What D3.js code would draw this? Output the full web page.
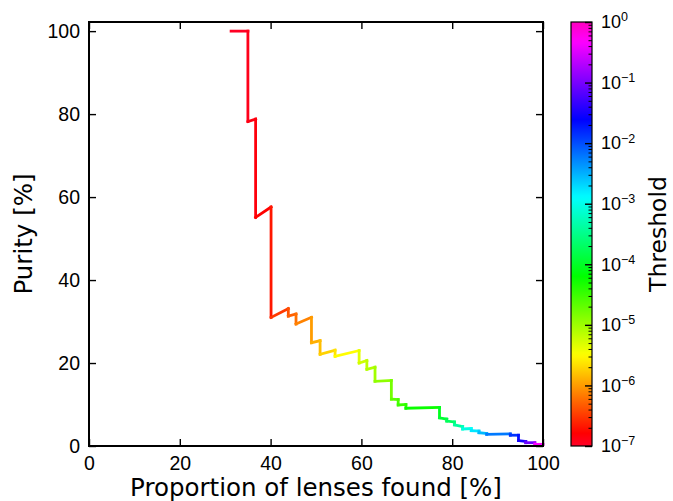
<!DOCTYPE html>
<html>
<head>
<meta charset="utf-8">
<script src="https://cdn.jsdelivr.net/npm/d3@7"></script>
<style>
  body { margin: 0; background: #fff; }
  svg { display: block; font-family: "DejaVu Sans", sans-serif; }
</style>
</head>
<body>
<svg id="chart" width="673" height="501"></svg>
<script>
// curve points: recall [%], purity [%], log10(threshold)
const recall = [31.3, 35.0, 35.0, 36.7, 36.7, 40.1, 40.1, 43.9, 43.9, 45.6, 45.6, 49.0, 49.0,
  50.9, 50.9, 54.2, 54.2, 59.5, 59.5, 61.2, 61.2, 63.0, 63.0, 66.6, 66.6, 68.1, 68.1,
  69.8, 69.8, 77.2, 77.2, 78.8, 78.8, 80.5, 80.5, 82.3, 82.3, 84.2, 84.2, 85.9, 85.9,
  87.6, 87.6, 92.8, 92.8, 94.6, 94.6, 96.2, 96.2, 98.2, 98.2, 100];
const purity = [100, 100, 78.2, 78.8, 55.1, 57.6, 31.0, 33.1, 31.3, 31.8, 29.4, 31.0, 24.9,
  25.4, 22.1, 23.1, 21.6, 23.0, 20.0, 20.6, 18.5, 19.0, 15.6, 15.8, 11.3, 11.2, 9.9,
  10.0, 9.1, 9.3, 6.8, 6.5, 6.0, 5.8, 5.1, 4.7, 4.1, 4.2, 3.7, 3.6, 3.2,
  3.0, 2.8, 2.9, 2.6, 2.6, 1.3, 1.1, 0.8, 0.8, 0.4, 0.4];
const logThreshold = [-7.0, -6.95, -6.9, -6.88, -6.82, -6.75, -6.6, -6.4, -6.35, -6.25, -6.2, -6.05, -5.95,
  -5.85, -5.8, -5.65, -5.6, -5.4, -5.3, -5.2, -5.15, -5.05, -5.0, -4.85, -4.75, -4.6, -4.55,
  -4.45, -4.4, -4.1, -4.0, -3.9, -3.8, -3.65, -3.5, -3.3, -3.15, -2.95, -2.85, -2.7, -2.6,
  -2.5, -2.4, -2.05, -1.95, -1.8, -1.6, -1.4, -1.2, -0.9, -0.6, 0];

const xTicks = [0, 20, 40, 60, 80, 100];
const yTicks = [0, 20, 40, 60, 80, 100];
const cbDecades = [-7, -6, -5, -4, -3, -2, -1, 0];

// matplotlib gist_rainbow
const rainbowStops = [
  [0.000, [1, 0, 0.16]], [0.030, [1, 0, 0]], [0.215, [1, 1, 0]], [0.400, [0, 1, 0]],
  [0.586, [0, 1, 1]], [0.770, [0, 0, 1]], [0.954, [1, 0, 1]], [1.000, [1, 0, 0.75]]
];
function gistRainbow(f) {
  f = Math.max(0, Math.min(1, f));
  let i = 1;
  while (i < rainbowStops.length - 1 && f > rainbowStops[i][0]) i++;
  const [f0, c0] = rainbowStops[i - 1], [f1, c1] = rainbowStops[i];
  const t = (f - f0) / (f1 - f0);
  const c = c0.map((v, k) => Math.round(255 * (v + (c1[k] - v) * t)));
  return `rgb(${c[0]},${c[1]},${c[2]})`;
}

const svg = d3.select("#chart");
const plot = {left: 89, right: 543, top: 22, bottom: 446};

const x = d3.scaleLinear().domain([0, 100]).range([plot.left, plot.right]);
const y = d3.scaleLinear().domain([0, 102.2]).range([plot.bottom, plot.top]);
const norm = d3.scaleLog().domain([1e-7, 1]).range([0, 1]);

// colored line segments
const segs = d3.range(recall.length - 1).map(i => ({
  x0: recall[i], y0: purity[i], x1: recall[i + 1], y1: purity[i + 1],
  t: Math.pow(10, (logThreshold[i] + logThreshold[i + 1]) / 2)
}));
svg.append("g").selectAll("line")
    .data(segs)
  .enter().append("line")
    .attr("x1", d => x(d.x0)).attr("y1", d => y(d.y0))
    .attr("x2", d => x(d.x1)).attr("y2", d => y(d.y1))
    .attr("stroke", d => gistRainbow(norm(d.t)))
    .attr("stroke-width", 2.8)
    .attr("stroke-linecap", "square");

// axes, ticks pointing inward
const tickLen = 7;
const styleAxis = g => {
  g.select(".domain").remove();
  g.selectAll(".tick line").attr("stroke", "#000").attr("stroke-width", 1.4);
  g.selectAll(".tick text").attr("fill", "#000").style("font-size", "19.5px");
};
svg.append("g").attr("transform", `translate(0,${plot.bottom})`)
    .call(d3.axisBottom(x).tickValues(xTicks).tickFormat(d3.format("d"))
      .tickSizeInner(-tickLen).tickSizeOuter(0).tickPadding(10))
    .call(styleAxis);
svg.append("g").attr("transform", `translate(0,${plot.top})`)
    .call(d3.axisTop(x).tickValues(xTicks).tickFormat("").tickSizeInner(-tickLen).tickSizeOuter(0))
    .call(styleAxis);
svg.append("g").attr("transform", `translate(${plot.left},0)`)
    .call(d3.axisLeft(y).tickValues(yTicks).tickFormat(d3.format("d"))
      .tickSizeInner(-tickLen).tickSizeOuter(0).tickPadding(9))
    .call(styleAxis);
svg.append("g").attr("transform", `translate(${plot.right},0)`)
    .call(d3.axisRight(y).tickValues(yTicks).tickFormat("").tickSizeInner(-tickLen).tickSizeOuter(0))
    .call(styleAxis);

svg.append("rect")
    .attr("x", plot.left).attr("y", plot.top)
    .attr("width", plot.right - plot.left).attr("height", plot.bottom - plot.top)
    .attr("fill", "none").attr("stroke", "#000").attr("stroke-width", 2);

svg.append("text")
    .attr("transform", `translate(23,${(plot.top + plot.bottom) / 2}) rotate(-90)`)
    .attr("text-anchor", "middle").attr("dominant-baseline", "central")
    .style("font-size", "24.5px")
    .text("Purity [%]");
svg.append("text")
    .attr("x", (plot.left + plot.right) / 2).attr("y", 496)
    .attr("text-anchor", "middle")
    .style("font-size", "24.5px")
    .text("Proportion of lenses found [%]");

// colorbar
const cb = {left: 571, right: 592, top: 22, bottom: 446};
const cy = d3.scaleLog().domain([1e-7, 1]).range([cb.bottom, cb.top]);
const grad = svg.append("defs").append("linearGradient")
    .attr("id", "cbgrad").attr("x1", 0).attr("y1", 1).attr("x2", 0).attr("y2", 0);
grad.selectAll("stop")
    .data(d3.range(0, 1.0001, 0.01))
  .enter().append("stop")
    .attr("offset", d => d)
    .attr("stop-color", d => gistRainbow(d));
svg.append("rect")
    .attr("x", cb.left).attr("y", cb.top)
    .attr("width", cb.right - cb.left).attr("height", cb.bottom - cb.top)
    .attr("fill", "url(#cbgrad)");

const minorVals = [];
cbDecades.slice(0, -1).forEach(d => { for (let m = 2; m <= 9; m++) minorVals.push(m * Math.pow(10, d)); });
svg.append("g").attr("transform", `translate(${cb.right},0)`)
    .call(d3.axisRight(cy).tickValues(minorVals).tickFormat("").tickSizeInner(-3.5).tickSizeOuter(0))
    .call(g => {
      g.select(".domain").remove();
      g.selectAll(".tick line").attr("stroke", "#000").attr("stroke-width", 1);
    });
const major = svg.append("g").attr("transform", `translate(${cb.right},0)`)
    .call(d3.axisRight(cy).tickValues(cbDecades.map(d => Math.pow(10, d))).tickFormat("")
      .tickSizeInner(-tickLen).tickSizeOuter(0).tickPadding(9))
    .call(styleAxis);
major.selectAll(".tick text").style("font-size", "18px").each(function(d) {
  const e = Math.round(Math.log10(d));
  const t = d3.select(this).text(null);
  t.append("tspan").text("10");
  t.append("tspan").attr("dy", "-0.55em").style("font-size", "12.5px")
    .text(e < 0 ? "\u2212" + (-e) : String(e));
});

svg.append("rect")
    .attr("x", cb.left).attr("y", cb.top)
    .attr("width", cb.right - cb.left).attr("height", cb.bottom - cb.top)
    .attr("fill", "none").attr("stroke", "#000").attr("stroke-width", 1.2);

svg.append("text")
    .attr("transform", `translate(658,${(cb.top + cb.bottom) / 2}) rotate(-90)`)
    .attr("text-anchor", "middle").attr("dominant-baseline", "central")
    .style("font-size", "23.5px")
    .text("Threshold");
</script>
</body>
</html>
